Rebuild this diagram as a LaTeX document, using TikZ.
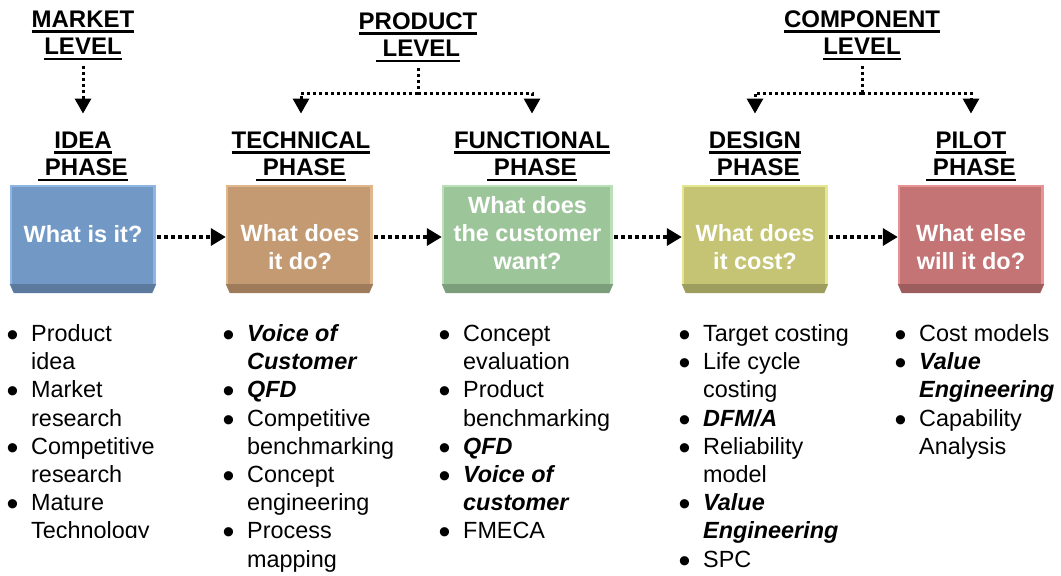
\documentclass[tikz,border=0pt]{standalone}
\usepackage{fontspec}
\usepackage{graphicx}
\setmainfont{Liberation Sans}
\usetikzlibrary{arrows.meta}

% face / light edge / dark base of each phase block
\definecolor{blueF}{HTML}{7299C6}\definecolor{blueL}{HTML}{8FB5E3}\definecolor{blueD}{HTML}{5B7A9E}
\definecolor{tanF}{HTML}{C49A72}\definecolor{tanL}{HTML}{E0B68C}\definecolor{tanD}{HTML}{9D7B5B}
\definecolor{grnF}{HTML}{9DC59A}\definecolor{grnL}{HTML}{B9E0B6}\definecolor{grnD}{HTML}{7D9E7B}
\definecolor{olvF}{HTML}{C4C474}\definecolor{olvL}{HTML}{E6E68E}\definecolor{olvD}{HTML}{9D9D5D}
\definecolor{redF}{HTML}{C47474}\definecolor{redL}{HTML}{E79393}\definecolor{redD}{HTML}{9D5D5D}

\newcommand\hfont{\fontsize{24}{27.5}\selectfont\bfseries}
\newcommand\bfont{\fontsize{23.5}{28}\selectfont\bfseries}
\newcommand\lfont{\fontsize{23.4}{28.2}\selectfont}
% heavy underline
\newcommand\hul[1]{\setbox0\hbox{#1}\rlap{\rule[-5.5pt]{\wd0}{2.2pt}}\box0}
\newcommand\stack[1]{\begin{tabular}[t]{@{}c@{}}#1\end{tabular}}
\newcommand\itm{\par\noindent\llap{\raisebox{-5pt}{\scalebox{1.45}{\textbullet}}\hspace{12.8pt}}}
\newcommand\bi[1]{\textbf{\textit{#1}}}
\newcommand\blist[1]{\parbox[t]{190pt}{\lfont\raggedright #1}}

% bevelled block: name, centre x, width, colour prefix
\newcommand\phasebox[4]{%
  \node[face, fill=#4F, minimum width=#3pt] (#1) at (#2,234.5) {};
  \fill[#4D] (#1.south west) -- (#1.south east) -- ([xshift=-4pt,yshift=-9pt]#1.south east)
        -- ([xshift=4pt,yshift=-9pt]#1.south west) -- cycle;
  \fill[#4L] (#1.north west) rectangle ([xshift=2.5pt]#1.south west);
  \fill[#4L] ([xshift=-3pt]#1.north east) rectangle (#1.south east);
  \fill[#4L] (#1.north west) rectangle ([yshift=-2pt]#1.north east);
}

\begin{document}
\begin{tikzpicture}[x=1pt, y=-1pt,
  head/.style={inner sep=0pt, anchor=base, font=\hfont},
  face/.style={rectangle, inner sep=0pt, minimum height=99pt, draw=none},
  btxt/.style={inner sep=0pt, anchor=base, font=\bfont, text=white},
  lst/.style={inner sep=0pt, anchor=base west},
  flow/.style={line width=3.5pt, dash pattern=on 3.5pt off 3.5pt,
               -{Triangle[length=15pt,width=17pt]}},
  lvl/.style={line width=3pt, dash pattern=on 3pt off 3pt,
              -{Triangle[length=15pt,width=16pt]}},
  lvlline/.style={line width=3pt, dash pattern=on 3pt off 3pt}]
\useasboundingbox (0,0) rectangle (1061,576);
\fill[white] (0,0) rectangle (1061,576);

% level headings
\node[head] (mkt)  at (83,27)  {\stack{\hul{MARKET}\\\hul{LEVEL}}};
\node[head] (prod) at (418,29) {\stack{\hul{PRODUCT}\\\hul{\ LEVEL}}};
\node[head] (comp) at (862,27) {\stack{\hul{COMPONENT}\\\hul{LEVEL}}};

% phase headings
\node[head] (idea) at (83,148)  {\stack{\hul{IDEA}\\\hul{\ PHASE}}};
\node[head] (tech) at (301,148) {\stack{\hul{TECHNICAL}\\\hul{\ PHASE}}};
\node[head] (func) at (532,148) {\stack{\hul{FUNCTIONAL}\\\hul{\ PHASE}}};
\node[head] (desg) at (755,148) {\stack{\hul{DESIGN}\\\hul{\ PHASE}}};
\node[head] (pilt) at (971,148) {\stack{\hul{PILOT}\\\hul{\ PHASE}}};

% level-to-phase connectors
\draw[lvl, shorten <=3pt, shorten >=15pt] (mkt.south) -- (idea.north);
\coordinate (pj) at (418,93);
\coordinate (cj) at (862,93);
\draw[lvlline, shorten <=3pt] (prod.south) -- (pj);
\draw[lvl, shorten >=15pt] (pj) -| (tech.north);
\draw[lvl, shorten >=15pt] (pj) -| (func.north);
\draw[lvlline, shorten <=3pt] (comp.south) -- (cj);
\draw[lvl, shorten >=15pt] (cj) -| (desg.north);
\draw[lvl, shorten >=15pt] (cj) -| (pilt.north);

% phase blocks
\phasebox{b1}{83}{146}{blue}
\phasebox{b2}{299.5}{147}{tan}
\phasebox{b3}{527.5}{171}{grn}
\phasebox{b4}{755}{146}{olv}
\phasebox{b5}{971}{146}{red}

\node[btxt] (q1) at (83,242.5)  {\stack{What is it?}};
\node[btxt] (q2) at (300,241)   {\stack{What does\\it do?}};
\node[btxt] (q3) at (527.5,213) {\stack{What does\\the customer\\want?}};
\node[btxt] (q4) at (755,241.5) {\stack{What does\\it cost?}};
\node[btxt] (q5) at (971,241.5) {\stack{What else\\will it do?}};

% flow between phases
\draw[flow, shorten <=1pt] ([yshift=-2.5pt]b1.east) -- ([yshift=-2.5pt]b2.west);
\draw[flow, shorten <=1pt] ([yshift=-2.5pt]b2.east) -- ([yshift=-2.5pt]b3.west);
\draw[flow, shorten <=1pt] ([yshift=-2.5pt]b3.east) -- ([yshift=-2.5pt]b4.west);
\draw[flow, shorten <=1pt] ([yshift=-2.5pt]b4.east) -- ([yshift=-2.5pt]b5.west);

% tool lists
\begin{scope}
\clip (0,300) rectangle (215,537);
\node[lst] (l1) at (31,341.5) {\blist{\itm Product\\idea
  \itm Market\\research \itm Competitive\\research \itm Mature\\Technology}};
\end{scope}
\node[lst] (l2) at (247,341.5) {\blist{\itm \bi{Voice of}\\\bi{Customer} \itm \bi{QFD}
  \itm Competitive\\benchmarking \itm Concept\\engineering \itm Process\\mapping}};
\node[lst] (l3) at (463,341.5) {\blist{\itm Concept\\evaluation \itm Product\\benchmarking
  \itm \bi{QFD} \itm \bi{Voice of}\\\bi{customer} \itm FMECA}};
\node[lst] (l4) at (703,341.5) {\blist{\itm Target costing \itm Life cycle\\costing
  \itm \bi{DFM/A} \itm Reliability\\model \itm \bi{Value}\\\bi{Engineering} \itm SPC}};
\node[lst] (l5) at (919,341.5) {\blist{\itm Cost models \itm \bi{Value}\\\bi{Engineering}
  \itm Capability\\Analysis}};
\end{tikzpicture}
\end{document}
